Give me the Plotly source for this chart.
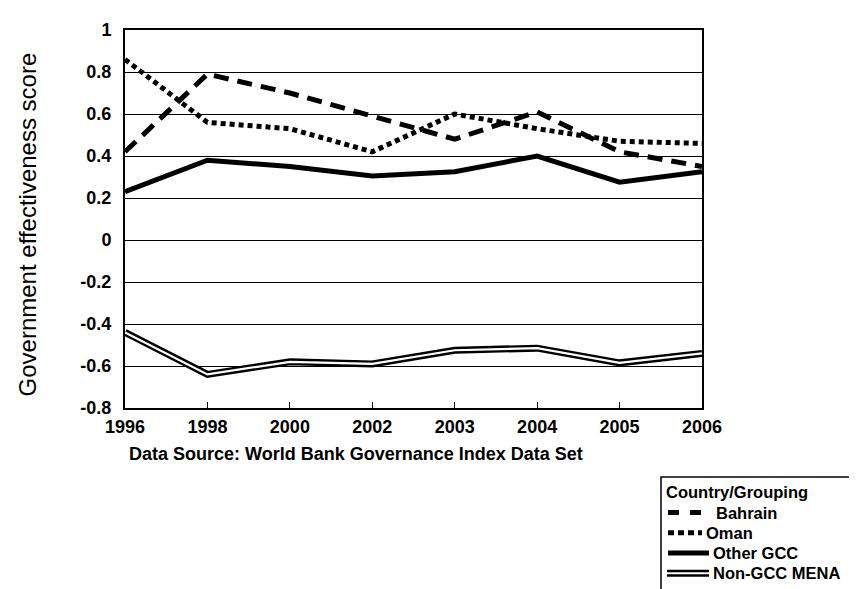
import plotly.graph_objects as go

years = ["1996", "1998", "2000", "2002", "2003", "2004", "2005", "2006"]
bahrain = [0.42, 0.79, 0.70, 0.59, 0.48, 0.61, 0.42, 0.35]
oman = [0.86, 0.56, 0.53, 0.42, 0.60, 0.53, 0.47, 0.46]
other_gcc = [0.23, 0.38, 0.35, 0.305, 0.325, 0.40, 0.275, 0.325]
non_gcc_mena = [-0.44, -0.64, -0.58, -0.59, -0.525, -0.515, -0.585, -0.54]
y_ticks = [1, 0.8, 0.6, 0.4, 0.2, 0, -0.2, -0.4, -0.6, -0.8]
y_tick_labels = ["1", "0.8", "0.6", "0.4", "0.2", "0", "-0.2", "-0.4", "-0.6", "-0.8"]
legend_names = ["Bahrain", "Oman", "Other GCC", "Non-GCC MENA"]

FONT = "Liberation Sans, Arial, sans-serif"
W_FIG, H_FIG = 857, 589
L, R, T, B = 117, 694, 17, 400
PW, PH = R - L, B - T


def px(x):
    return (x - L) / PW


def py(y):
    return (B - y) / PH


idx = list(range(len(years)))
fig = go.Figure()
fig.add_trace(go.Scatter(x=idx, y=non_gcc_mena, mode="lines",
                         line=dict(color="black", width=7), showlegend=False))
fig.add_trace(go.Scatter(x=idx, y=non_gcc_mena, mode="lines",
                         line=dict(color="white", width=2.2), showlegend=False))
fig.add_trace(go.Scatter(x=idx, y=other_gcc, mode="lines",
                         line=dict(color="black", width=5), showlegend=False))
fig.add_trace(go.Scatter(x=idx, y=oman, mode="lines",
                         line=dict(color="black", width=5, dash="5px,4px"), showlegend=False))
fig.add_trace(go.Scatter(x=idx, y=bahrain, mode="lines",
                         line=dict(color="black", width=5, dash="15px,9px"), showlegend=False))

shapes = []
annotations = []

# legend box
shapes.append(dict(type="rect", xref="paper", yref="paper",
                   x0=px(653), x1=px(880), y0=py(470), y1=py(610),
                   line=dict(color="black", width=1.5), fillcolor="white"))
annotations.append(dict(text="<b>Country/Grouping</b>", xref="paper", yref="paper",
                        x=px(657), y=py(485), xanchor="left", yanchor="middle",
                        borderpad=0, showarrow=False,
                        font=dict(size=16.5, color="black", family=FONT)))
rows = [506, 526.5, 547, 567.5]
text_x = [707, 697, 704, 704]
sample_end = [695, 694, 701, 701]
dashes = ["11px,11px", "6px,4px", "solid", "solid"]
for i, name in enumerate(legend_names):
    y = py(rows[i])
    if i == 3:
        shapes.append(dict(type="line", xref="paper", yref="paper", x0=px(659), x1=px(sample_end[i]),
                           y0=y, y1=y, line=dict(color="black", width=7)))
        shapes.append(dict(type="line", xref="paper", yref="paper", x0=px(659), x1=px(sample_end[i]),
                           y0=y, y1=y, line=dict(color="white", width=2)))
    else:
        shapes.append(dict(type="line", xref="paper", yref="paper", x0=px(660), x1=px(sample_end[i]),
                           y0=y, y1=y, line=dict(color="black", width=5, dash=dashes[i])))
    annotations.append(dict(text="<b>" + name + "</b>", xref="paper", yref="paper",
                            x=px(text_x[i]), y=y, xanchor="left", yanchor="middle",
                            borderpad=0, showarrow=False,
                            font=dict(size=16.5, color="black", family=FONT)))

annotations.append(dict(text="<b>Data Source: World Bank Governance Index Data Set</b>",
                        xref="paper", yref="paper", x=px(119), y=py(447),
                        xanchor="left", yanchor="middle", showarrow=False,
                        font=dict(size=18, color="black", family=FONT)))
annotations.append(dict(text="Government effectiveness score", xref="paper", yref="paper",
                        x=px(19), y=py(214), xanchor="center", yanchor="middle",
                        textangle=-90, showarrow=False,
                        font=dict(size=24, color="black", family=FONT)))

fig.update_layout(
    width=W_FIG, height=H_FIG,
    margin=dict(l=L, r=W_FIG - R, t=T, b=H_FIG - B, pad=0),
    paper_bgcolor="white", plot_bgcolor="white",
    showlegend=False,
    shapes=shapes, annotations=annotations,
    font=dict(family=FONT, color="black"),
)
fig.update_xaxes(range=[0, len(years) - 1], tickmode="array", tickvals=idx,
                 ticktext=["<b>" + y + "</b>" for y in years],
                 tickfont=dict(size=18, family=FONT, color="black"),
                 ticks="inside", ticklen=6, tickcolor="black", tickwidth=1,
                 ticklabelstandoff=1,
                 showgrid=False, zeroline=False,
                 showline=True, linecolor="black", linewidth=2, mirror=True)
fig.update_yaxes(range=[-0.8, 1], tickmode="array", tickvals=y_ticks,
                 ticktext=["<b>" + t + "</b>" for t in y_tick_labels],
                 tickfont=dict(size=18, family=FONT, color="black"),
                 ticks="", ticklabelstandoff=8,
                 showgrid=True, gridcolor="black", gridwidth=1,
                 zeroline=False,
                 showline=True, linecolor="black", linewidth=2, mirror=True)

fig.write_html("out.html")
